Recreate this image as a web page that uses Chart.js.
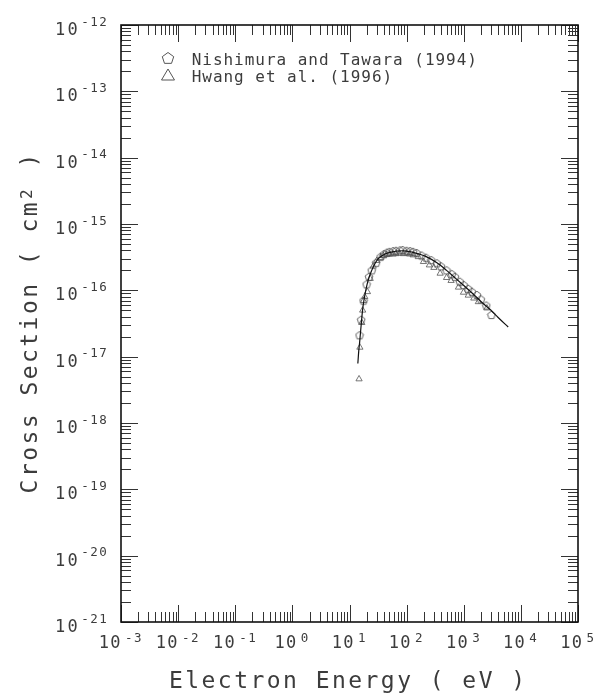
<!DOCTYPE html>
<html>
<head>
<meta charset="utf-8">
<script src="https://cdn.jsdelivr.net/npm/chart.js@4.4.1/dist/chart.umd.min.js"></script>
<style>
  html, body { margin: 0; padding: 0; background: #fff; }
  canvas { display: block; }
</style>
</head>
<body>
<canvas id="chart" width="594" height="696"></canvas>
<script>
// fitted curve
var curveEnergy = [14, 14.5, 15, 15.5, 16, 17, 18, 19.5, 21, 24.5, 28, 32, 39, 48, 58, 70, 88, 110, 131, 170, 220, 339, 500, 700, 1000, 1500, 2000, 3000, 4000, 6000];
var curveSigma = [7.9e-18, 1.2e-17, 1.6e-17, 2.2e-17, 3.0e-17, 5.2e-17, 7.3e-17, 1.05e-16, 1.38e-16, 2.0e-16, 2.55e-16, 3.0e-16, 3.4e-16, 3.68e-16, 3.82e-16, 3.92e-16, 3.95e-16, 3.85e-16, 3.72e-16, 3.5e-16, 3.22e-16, 2.6e-16, 2.0e-16, 1.55e-16, 1.18e-16, 8.6e-17, 6.8e-17, 5.0e-17, 3.9e-17, 2.8e-17];

// Nishimura and Tawara (1994)
var nishEnergy = [15, 16, 17.6, 19.9, 22, 24.5, 29.3, 35, 40, 45, 50, 58, 65, 76, 85, 100, 115, 130, 150, 183, 220, 270, 339, 400, 500, 619, 700, 854, 1000, 1200, 1390, 1700, 1990, 2480, 3050];
var nishSigma = [2.1e-17, 3.6e-17, 7.0e-17, 1.23e-16, 1.6e-16, 2.0e-16, 2.6e-16, 3.2e-16, 3.5e-16, 3.7e-16, 3.8e-16, 3.9e-16, 3.95e-16, 4.0e-16, 4.05e-16, 3.95e-16, 3.9e-16, 3.8e-16, 3.65e-16, 3.35e-16, 3.1e-16, 2.85e-16, 2.55e-16, 2.3e-16, 2.0e-16, 1.75e-16, 1.6e-16, 1.35e-16, 1.2e-16, 1.05e-16, 9.5e-17, 8.5e-17, 7.3e-17, 5.9e-17, 4.25e-17];

// Hwang et al. (1996)
var hwangEnergy = [14.7, 15.2, 16.4, 17.0, 17.6, 18.5, 20.6, 23, 26, 30, 35, 39, 45, 50, 58, 65, 75, 88, 100, 113, 130, 160, 197, 250, 300, 386, 500, 600, 808, 988, 1200, 1500, 1800, 2540];
var hwangSigma = [4.6e-18, 1.38e-17, 3.25e-17, 5.0e-17, 6.97e-17, 8.0e-17, 9.5e-17, 1.5e-16, 2.3e-16, 2.8e-16, 3.1e-16, 3.35e-16, 3.45e-16, 3.5e-16, 3.5e-16, 3.55e-16, 3.6e-16, 3.55e-16, 3.6e-16, 3.5e-16, 3.4e-16, 3.2e-16, 2.7e-16, 2.4e-16, 2.2e-16, 1.8e-16, 1.55e-16, 1.4e-16, 1.11e-16, 9.3e-17, 8.4e-17, 7.6e-17, 6.7e-17, 5.4e-17];

var xExps = [-3, -2, -1, 0, 1, 2, 3, 4, 5];
var yExps = [-12, -13, -14, -15, -16, -17, -18, -19, -20, -21];
var legendLabels = ["Nishimura and Tawara (1994)", "Hwang et al. (1996)"];

var MONO = '"DejaVu Sans Mono", "Liberation Mono", monospace';
var INK = '#3c3c3c';

function pts(xs, ys) {
  return xs.map(function(x, i) { return {x: x, y: ys[i]}; });
}

function pentagonPath(ctx, cx, cy, r) {
  ctx.beginPath();
  for (var i = 0; i < 5; i++) {
    var a = -Math.PI / 2 + i * 2 * Math.PI / 5;
    var px = cx + r * Math.cos(a), py = cy + r * Math.sin(a);
    if (i === 0) ctx.moveTo(px, py); else ctx.lineTo(px, py);
  }
  ctx.closePath();
}

var pent = document.createElement('canvas');
pent.width = 10; pent.height = 10;
(function() {
  var g = pent.getContext('2d');
  g.strokeStyle = '#555';
  g.lineWidth = 0.9;
  pentagonPath(g, 5, 5.3, 4.1);
  g.stroke();
})();

// draw text char by char on a fixed grid (plotter-style lettering)
function spaced(ctx, str, x, y, adv) {
  for (var i = 0; i < str.length; i++) {
    ctx.fillText(str[i], x + i * adv, y);
  }
}

var axisDecor = {
  id: 'axisDecor',
  afterDraw: function(chart) {
    var ctx = chart.ctx, xs = chart.scales.x, ys = chart.scales.y;
    var a = chart.chartArea;
    ctx.save();

    // inward ticks on all four sides
    ctx.strokeStyle = '#333';
    ctx.lineWidth = 1;
    ctx.beginPath();
    for (var d = -3; d <= 5; d++) {
      for (var m = 1; m <= 9; m++) {
        var v = m * Math.pow(10, d);
        if (v > 1e5 * 1.0001) continue;
        var px = Math.round(xs.getPixelForValue(v)) + 0.5;
        var len = m === 1 ? 17 : 10;
        ctx.moveTo(px, a.bottom); ctx.lineTo(px, a.bottom - len);
        ctx.moveTo(px, a.top); ctx.lineTo(px, a.top + len);
      }
    }
    for (var e = -21; e <= -12; e++) {
      for (var k = 1; k <= 9; k++) {
        var w = k * Math.pow(10, e);
        if (w > 1e-12 * 1.0001) continue;
        var py = Math.round(ys.getPixelForValue(w)) + 0.5;
        var l2 = k === 1 ? 17 : 10;
        ctx.moveTo(a.left, py); ctx.lineTo(a.left + l2, py);
        ctx.moveTo(a.right, py); ctx.lineTo(a.right - l2, py);
      }
    }
    ctx.stroke();

    // frame
    ctx.strokeStyle = '#111';
    ctx.lineWidth = 1.6;
    ctx.strokeRect(a.left, a.top, a.right - a.left, a.bottom - a.top);

    ctx.fillStyle = INK;
    ctx.textAlign = 'center';
    ctx.textBaseline = 'alphabetic';

    // x tick labels
    xExps.forEach(function(p) {
      var tx = xs.getPixelForValue(Math.pow(10, p));
      var sup = String(p);
      var width = 25 + (sup.length - 1) * 9 + 6.5;
      var c0 = tx - width / 2 + 3;
      ctx.font = '17px ' + MONO;
      spaced(ctx, '10', c0, 648, 11.5);
      ctx.font = '12.5px ' + MONO;
      spaced(ctx, sup, c0 + 25, 642, 9);
    });

    // y tick labels (right aligned)
    yExps.forEach(function(p) {
      var ty = ys.getPixelForValue(Math.pow(10, p));
      var sup = String(p);
      var lastC = 103;
      var firstSup = lastC - (sup.length - 1) * 9;
      ctx.font = '12.5px ' + MONO;
      spaced(ctx, sup, firstSup, ty + 0.5, 9);
      ctx.font = '17px ' + MONO;
      spaced(ctx, '10', firstSup - 25, ty + 10, 12.5);
    });

    // x axis title
    ctx.font = '23px ' + MONO;
    var xt = 'Electron Energy ( eV )';
    var adv = 16.3;
    spaced(ctx, xt, 347 - (xt.length - 1) * adv / 2, 688, adv);

    // y axis title (rotated)
    ctx.save();
    ctx.translate(37, (a.top + a.bottom) / 2);
    ctx.rotate(-Math.PI / 2);
    var head = 'Cross Section ( cm';
    var cells = head.length + 3;
    var s0 = -(cells - 1) * adv / 2;
    ctx.font = '23px ' + MONO;
    spaced(ctx, head, s0, 0, adv);
    ctx.font = '16px ' + MONO;
    ctx.fillText('2', s0 + head.length * adv - 1, -5);
    ctx.font = '23px ' + MONO;
    spaced(ctx, ' )', s0 + (head.length + 1) * adv, 0, adv);
    ctx.restore();

    // legend
    ctx.strokeStyle = '#555';
    ctx.lineWidth = 1;
    pentagonPath(ctx, 168, 58.5, 6);
    ctx.stroke();
    ctx.beginPath();
    ctx.moveTo(168, 69); ctx.lineTo(174.5, 80); ctx.lineTo(161.5, 80); ctx.closePath();
    ctx.stroke();
    ctx.font = '16px ' + MONO;
    spaced(ctx, legendLabels[0], 196.5, 65, 10.6);
    spaced(ctx, legendLabels[1], 196.5, 82, 10.6);

    ctx.restore();
  }
};

new Chart(document.getElementById('chart'), {
  type: 'scatter',
  data: {
    datasets: [
      {
        label: 'fit',
        data: pts(curveEnergy, curveSigma),
        showLine: true,
        borderColor: '#111',
        borderWidth: 1.2,
        pointRadius: 0,
        cubicInterpolationMode: 'monotone',
        fill: false
      },
      {
        label: legendLabels[0],
        data: pts(nishEnergy, nishSigma),
        pointStyle: pent,
        pointRadius: 4,
        borderColor: '#555',
        backgroundColor: 'rgba(0,0,0,0)'
      },
      {
        label: legendLabels[1],
        data: pts(hwangEnergy, hwangSigma),
        pointStyle: 'triangle',
        pointRadius: 3.6,
        borderWidth: 0.8,
        borderColor: '#555',
        backgroundColor: 'rgba(0,0,0,0)'
      }
    ]
  },
  options: {
    responsive: false,
    animation: false,
    layout: { padding: { left: 121, right: 16, top: 25, bottom: 74 } },
    plugins: { legend: { display: false }, tooltip: { enabled: false } },
    scales: {
      x: { type: 'logarithmic', min: 1e-3, max: 1e5, display: false },
      y: { type: 'logarithmic', min: 1e-21, max: 1e-12, display: false }
    }
  },
  plugins: [axisDecor]
});
</script>
</body>
</html>
